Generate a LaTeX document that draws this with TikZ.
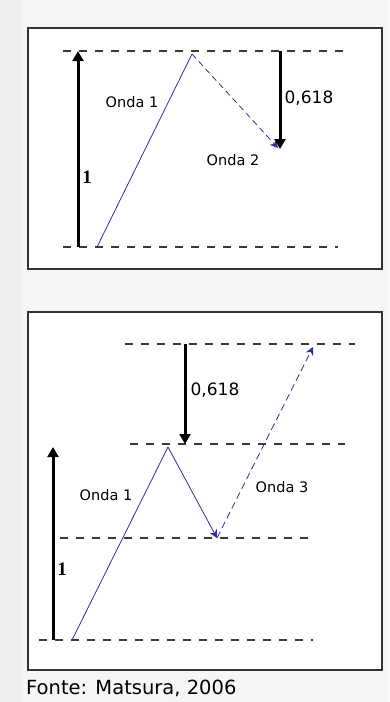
\documentclass[tikz,border=0pt]{standalone}
\usepackage{fontspec}
\setmainfont{DejaVu Sans}
\newfontfamily\timesfont{Liberation Serif}
\usetikzlibrary{arrows.meta,positioning}
\definecolor{pagegray}{HTML}{F6F6F6}
\definecolor{stripgray}{HTML}{EEEEEE}
\definecolor{wavecol}{HTML}{2E2E9C}
\definecolor{levelgray}{HTML}{3A3A3A}
\tikzset{
  panel/.style={
    draw = black!80,
    line width = 1.4pt,
    fill = white
  },
  level/.style={
    draw = levelgray,
    line width = 1.3pt,
    dash pattern = on 8pt off 8pt
  },
  measure/.style={
    line width = 3pt,
    -{Triangle[width=11pt,length=10pt]}
  },
  wave/.style={
    draw = wavecol,
    line width = 0.8pt
  },
  wavetip/.style={
    wave,
    -{Stealth[width=8pt,length=8pt]}
  },
  lbl/.style={
    font = \fontsize{14.5}{16}\selectfont,
    inner sep = 1pt
  },
  ratio/.style={
    font = \fontsize{17}{19}\selectfont,
    inner sep = 1pt
  },
  unit/.style={
    font = \timesfont\bfseries\fontsize{19}{21}\selectfont,
    inner sep = 1pt
  }
}
\begin{document}
\begin{tikzpicture}[x=1pt,y=-1pt]
        \useasboundingbox (0,0) rectangle (389,702);
        \fill[pagegray] (0,0) rectangle (389,702);
        \fill[stripgray] (0,0) rectangle (22,702);
        % upper panel
        \draw[panel] (28,28) rectangle (382,269);
        \coordinate (atl) at (63,51);
        \coordinate (atr) at (348,51);
        \coordinate (abl) at (63,247);
        \coordinate (abr) at (338,247);
        \draw[level] (atl) -- (atr);
        \draw[level] (abl) -- (abr);
        \coordinate (aus) at (78,247);
        \coordinate (aue) at (78,51);
        \draw[measure] (aus) -- (aue);
        \node[unit] (aone) at (87,177) {1};
        \coordinate (aw0) at (97,247);
        \coordinate (aw1) at (192,54);
        \coordinate (aw2) at (278,148);
        \draw[wave] (aw0) -- (aw1);
        \draw[wavetip, dash pattern=on 6pt off 4pt] (aw1) -- (aw2);
        \coordinate (ars) at (280,51);
        \coordinate (are) at (280,149);
        \draw[measure] (ars) -- (are);
        \node[ratio] (aratio) at (309,98) {0,618};
        \node[lbl] (aonda1) at (132,102) {Onda 1};
        \node[lbl] (aonda2) at (233,160) {Onda 2};
        % lower panel
        \draw[panel] (28,312) rectangle (382,670);
        \coordinate (l1a) at (125,344);
        \coordinate (l1b) at (355,344);
        \coordinate (l2a) at (130,444);
        \coordinate (l2b) at (345,444);
        \coordinate (l3a) at (60,538);
        \coordinate (l3b) at (315,538);
        \coordinate (l4a) at (39,640);
        \coordinate (l4b) at (313,640);
        \draw[level] (l1a) -- (l1b);
        \draw[level] (l2a) -- (l2b);
        \draw[level] (l3a) -- (l3b);
        \draw[level] (l4a) -- (l4b);
        \coordinate (bus) at (53,640);
        \coordinate (bue) at (53,447);
        \draw[measure] (bus) -- (bue);
        \node[unit] (bone) at (62,569) {1};
        \coordinate (brs) at (185,344);
        \coordinate (bre) at (185,444);
        \draw[measure] (brs) -- (bre);
        \node[ratio] (bratio) at (215,390) {0,618};
        \coordinate (bw0) at (72,640);
        \coordinate (bw1) at (168,447);
        \coordinate (bw2) at (217,538);
        \coordinate (bw3) at (313,347);
        \draw[wave] (bw0) -- (bw1);
        \draw[wavetip] (bw1) -- (bw2);
        \draw[wavetip, dash pattern=on 7pt off 4pt] (bw2) -- (bw3);
        \node[lbl] (bonda1) at (106,495) {Onda 1};
        \node[lbl] (bonda3) at (282,487) {Onda 3};
        % source
        \node[lbl, anchor=west, font=\fontsize{19.5}{21}\selectfont] (fonte) at (25,688) {Fonte: Matsura, 2006};
    \end{tikzpicture}
\end{document}
